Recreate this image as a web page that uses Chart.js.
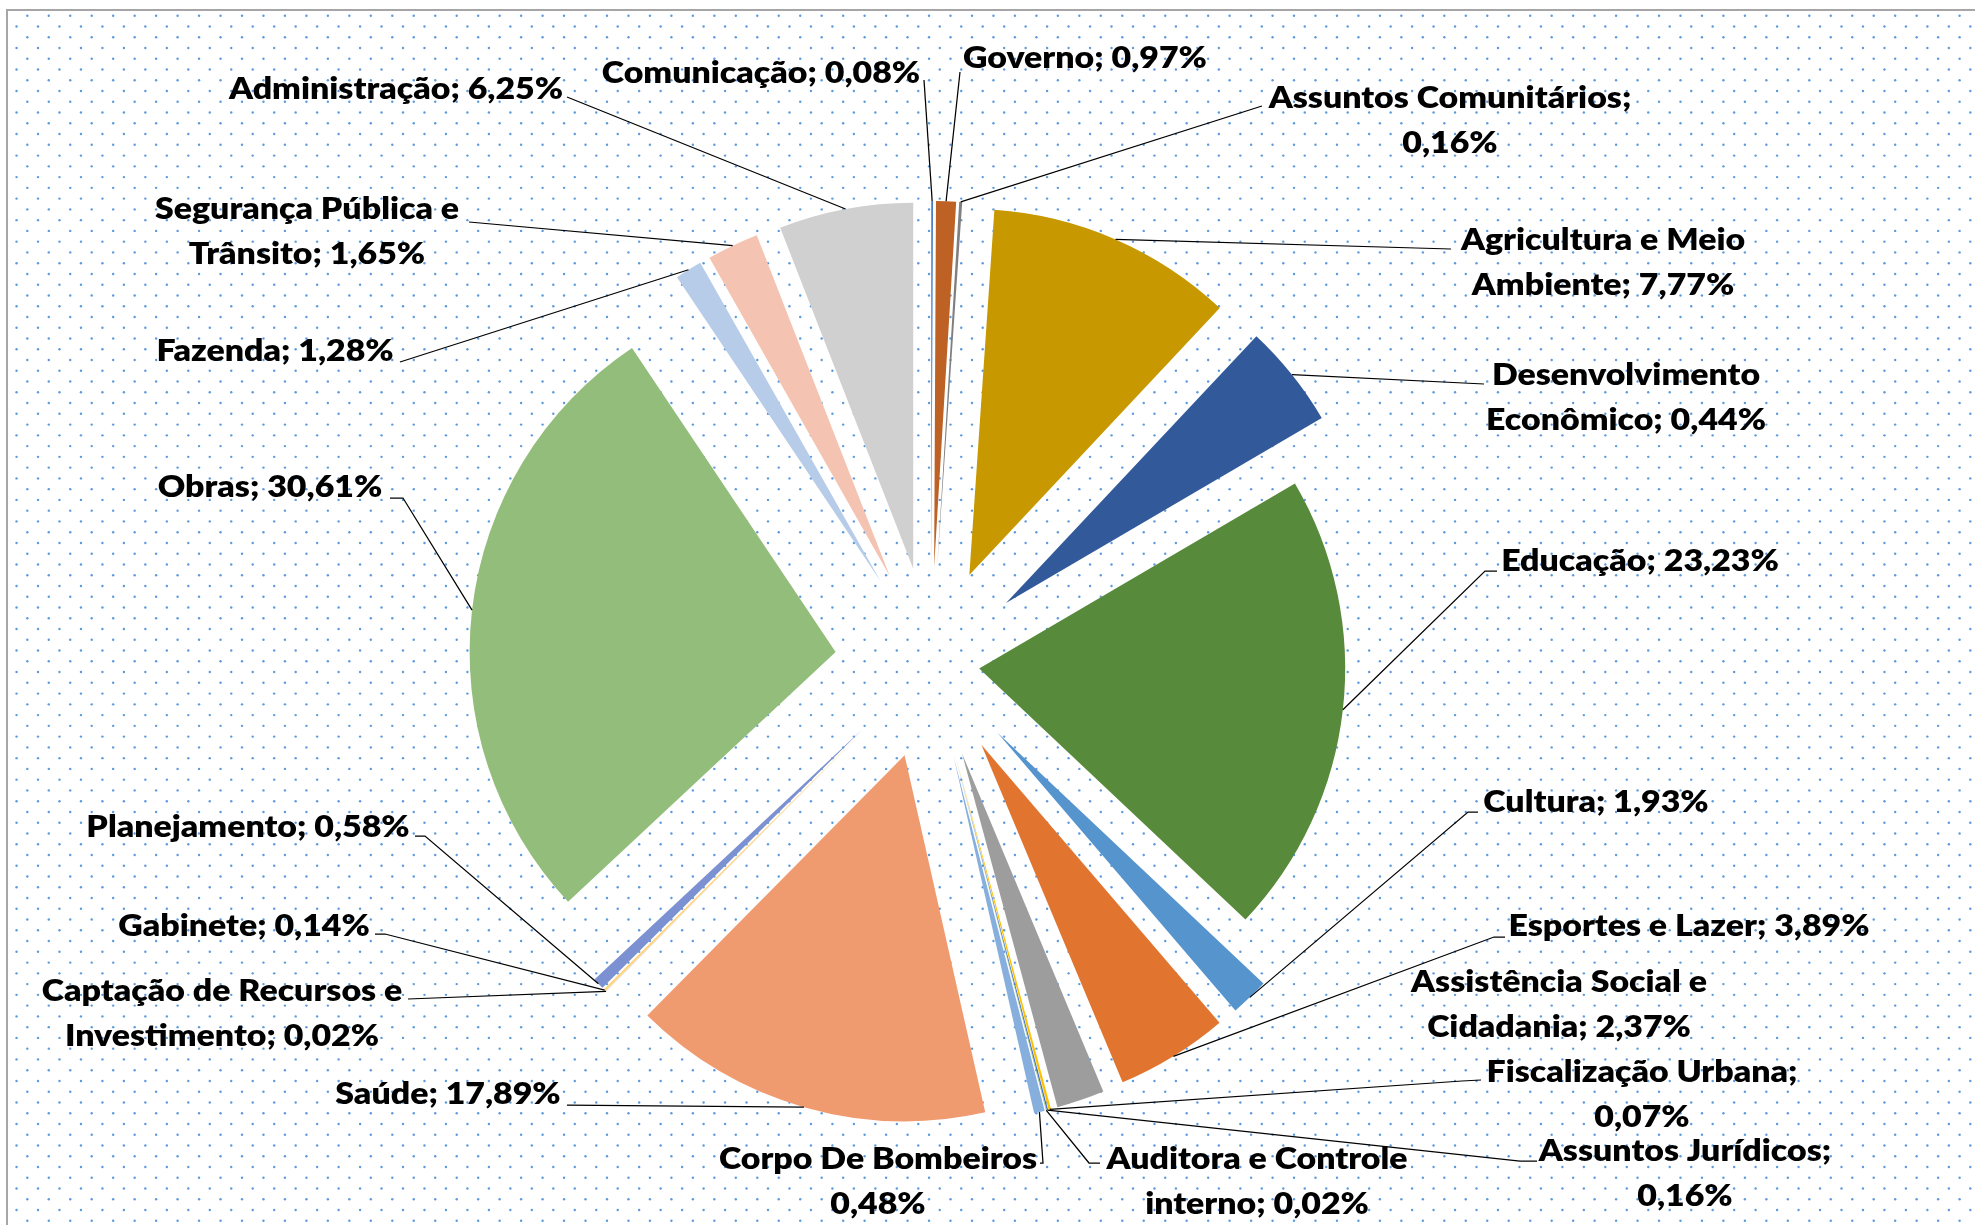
<!DOCTYPE html>
<html>
<head>
<meta charset="utf-8">
<script src="https://cdn.jsdelivr.net/npm/chart.js@4.4.1/dist/chart.umd.min.js"></script>
<style>
html,body{margin:0;padding:0;background:#fff;width:1975px;height:1225px;overflow:hidden}
#wrap{position:absolute;left:0;top:0;width:1975px;height:1225px}
</style>
</head>
<body>
<div id="wrap"><canvas id="c" width="1975" height="1225"></canvas></div>
<script>
// ---- data (clockwise from 12 o'clock) ----
const categories = [
  'Comunicação','Governo','Assuntos Comunitários','Agricultura e Meio Ambiente',
  'Desenvolvimento Econômico','Educação','Cultura','Esportes e Lazer',
  'Assistência Social e Cidadania','Fiscalização Urbana','Assuntos Jurídicos',
  'Auditora e Controle interno','Corpo De Bombeiros','Saúde',
  'Captação de Recursos e Investimento','Gabinete','Planejamento','Obras',
  'Fazenda','Segurança Pública e Trânsito','Administração'
];
// slice shares as drawn in the picture (%)
const sliceValues = [0.08, 0.88, 0.13, 10.90, 4.57, 20.47, 1.69, 4.97, 2.11, 0.11, 0.06,
                     0.02, 0.47, 15.94, 0.02, 0.11, 0.51, 27.56, 1.19, 2.28, 5.92];
// data label texts as printed
const labelTexts = [
  'Comunicação; 0,08%','Governo; 0,97%','Assuntos Comunitários;\n0,16%',
  'Agricultura e Meio\nAmbiente; 7,77%','Desenvolvimento\nEconômico; 0,44%',
  'Educação; 23,23%','Cultura; 1,93%','Esportes e Lazer; 3,89%',
  'Assistência Social e\nCidadania; 2,37%','Fiscalização Urbana;\n0,07%',
  'Assuntos Jurídicos;\n0,16%','Auditora e Controle\ninterno; 0,02%',
  'Corpo De Bombeiros\n0,48%','Saúde; 17,89%','Captação de Recursos e\nInvestimento; 0,02%',
  'Gabinete; 0,14%','Planejamento; 0,58%','Obras; 30,61%','Fazenda; 1,28%',
  'Segurança Pública e\nTrânsito; 1,65%','Administração; 6,25%'
];

// ---- styles ----
const sliceColors = ['#4A7EC2','#BD6125','#7F7F7F','#C79800','#325A9A','#578A3A','#5694CE',
  '#E1752F','#9D9D9D','#FFC000','#4472C4','#70AD47','#86AFDD','#F09A70','#C9C9C9',
  '#FFD47F','#7C91D1','#93BD7B','#B7CCE8','#F4C3B1','#D0D0D0'];
const explodeDist = [96,96,96,96,96,48.5,96,96,96,96,96,96,96,96,96,96,96,96,96,96,96];
const labelLayout = [
  {x:761,y:72,lead:[924,80]},
  {x:1085,y:57,lead:[960,72]},
  {x:1450,y:97,lead:[1262,106]},
  {x:1603,y:239,lead:[1451,249]},
  {x:1626,y:374,lead:[1484,384]},
  {x:1640,y:560,lead:[1497,571],elbow:[1485,571]},
  {x:1596,y:801,lead:[1478,812],elbow:[1468,812]},
  {x:1689,y:925,lead:[1505,937],elbow:[1494,937]},
  {x:1559,y:981},
  {x:1642,y:1071,lead:[1481,1080],elbow:[1462,1081]},
  {x:1685,y:1150,lead:[1537,1161],elbow:[1520,1161]},
  {x:1257,y:1158,lead:[1100,1163],elbow:[1089,1163]},
  {x:878,y:1158,lead:[1040,1163],elbow:[1043,1163]},
  {x:448,y:1093,lead:[567,1105]},
  {x:222,y:990,lead:[408,999]},
  {x:244,y:925,lead:[375,934],elbow:[385,934]},
  {x:248,y:826,lead:[415,836],elbow:[425,836]},
  {x:270,y:486,lead:[390,498],elbow:[403,498]},
  {x:275,y:350,lead:[400,362]},
  {x:307,y:208,lead:[469,222]},
  {x:396,y:88,lead:[567,97]}
];
const LINE_GAP = 44.5, CAP = 22, FONT = '800 31px Lato';

const bgPlugin = {
  id: 'dotsBg',
  beforeDraw(chart) {
    const ctx = chart.ctx;
    ctx.save();
    ctx.fillStyle = '#ffffff';
    ctx.fillRect(0, 0, chart.width, chart.height);
    ctx.fillStyle = 'rgba(62,136,216,0.85)';
    const dx = 21.47, dy = 21.52;
    const fams = [[27.3, 15.7], [16.55, 26.46]];
    fams.forEach(([ox, oy]) => {
      for (let y = oy; y < chart.height + 3; y += dy) {
        for (let x = ox; x < chart.width + 3; x += dx) {
          ctx.beginPath();
          ctx.arc(x, y, 1.2, 0, Math.PI * 2);
          ctx.fill();
        }
      }
    });
    ctx.strokeStyle = '#a6a6a6';
    ctx.lineWidth = 2;
    ctx.beginPath();
    ctx.moveTo(7, chart.height);
    ctx.lineTo(7, 10);
    ctx.lineTo(chart.width, 10);
    ctx.stroke();
    ctx.restore();
  }
};

const explodePlugin = {
  id: 'explode',
  afterDatasetsUpdate(chart) {
    const meta = chart.getDatasetMeta(0);
    meta.data.forEach((el, i) => {
      const mid = (el.startAngle + el.endAngle) / 2;
      el.x = el.x + Math.cos(mid) * explodeDist[i];
      el.y = el.y + Math.sin(mid) * explodeDist[i];
    });
  }
};

const labelPlugin = {
  id: 'leaderLabels',
  afterDatasetsDraw(chart) {
    const ctx = chart.ctx;
    const meta = chart.getDatasetMeta(0);
    ctx.save();
    ctx.strokeStyle = '#000';
    ctx.lineWidth = 1.25;
    labelLayout.forEach((L, i) => {
      if (!L.lead) return;
      const el = meta.data[i];
      const mid = (el.startAngle + el.endAngle) / 2;
      const px = el.x + Math.cos(mid) * el.outerRadius;
      const py = el.y + Math.sin(mid) * el.outerRadius;
      ctx.beginPath();
      ctx.moveTo(L.lead[0], L.lead[1]);
      if (L.elbow) ctx.lineTo(L.elbow[0], L.elbow[1]);
      ctx.lineTo(px, py);
      ctx.stroke();
    });
    ctx.font = FONT;
    ctx.fillStyle = '#000';
    ctx.textAlign = 'center';
    ctx.textBaseline = 'alphabetic';
    const refs = ['Educação; 23,23%', 'Planejamento; 0,58%', 'Esportes e Lazer; 3,89%'];
    const target = 274 + 328 + 360;
    const measured = refs.reduce((s, r) => s + ctx.measureText(r).width, 0);
    const sx = target / measured;
    labelTexts.forEach((t, i) => {
      const L = labelLayout[i];
      t.split('\n').forEach((line, j) => {
        ctx.save();
        ctx.translate(L.x, L.y + j * LINE_GAP + CAP / 2);
        ctx.scale(sx, 1);
        ctx.fillText(line, 0, 0);
        ctx.restore();
      });
    });
    ctx.restore();
  }
};

new Chart(document.getElementById('c'), {
  type: 'pie',
  data: {
    labels: categories,
    datasets: [{
      data: sliceValues,
      backgroundColor: sliceColors,
      borderWidth: 0,
      radius: 366
    }]
  },
  options: {
    responsive: false,
    animation: false,
    events: [],
    radius: 366,
    layout: { padding: { left: 0, right: 113, top: 101, bottom: 0 } },
    plugins: { legend: { display: false }, tooltip: { enabled: false } }
  },
  plugins: [bgPlugin, explodePlugin, labelPlugin]
});
</script>
</body>
</html>
